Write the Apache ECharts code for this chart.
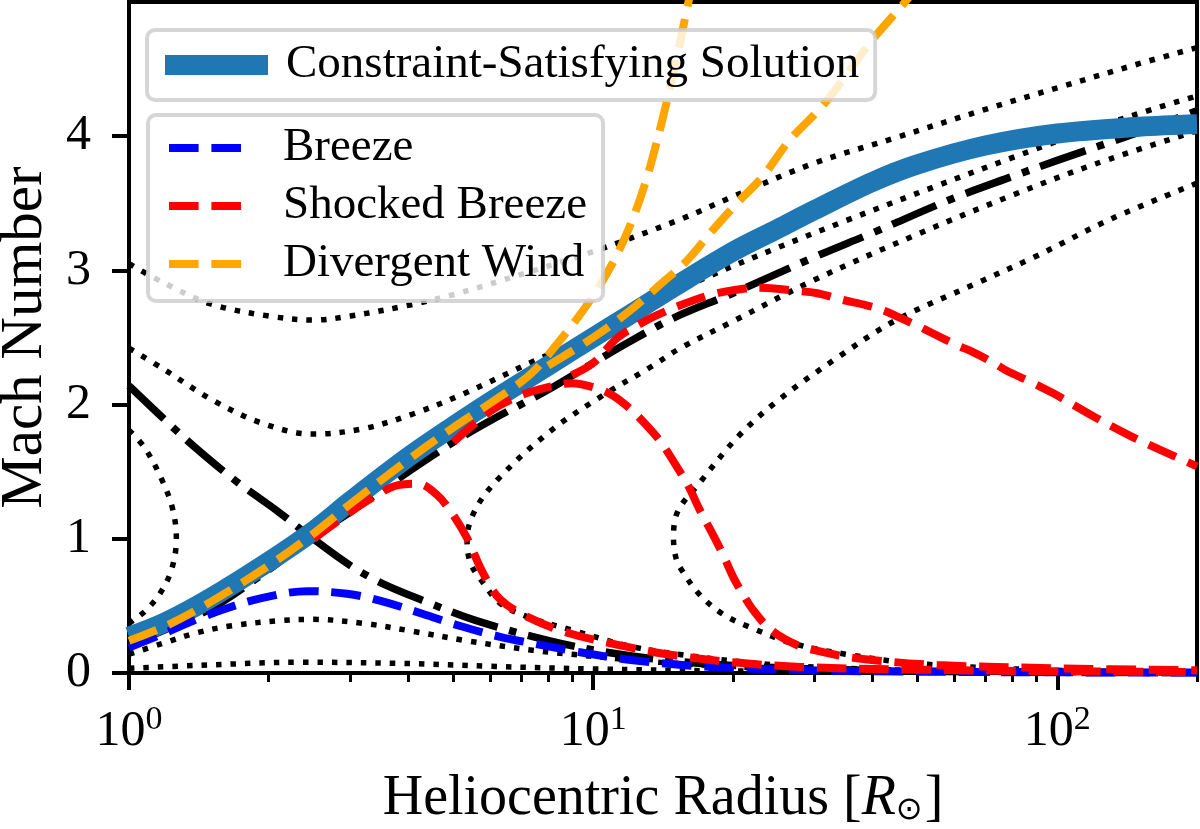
<!DOCTYPE html>
<html>
<head>
<meta charset="utf-8">
<script src="https://cdn.jsdelivr.net/npm/echarts@6/dist/echarts.min.js"></script>
<style>
  html, body { margin: 0; padding: 0; background: #fff; }
  #chart { width: 1200px; height: 829px; }
</style>
</head>
<body>
<div id="chart"></div>
<script>
// radius in R_sun, value = Mach number
const solution = [[1,0.27],[1.2,0.38],[1.5,0.56],[2,0.83],[2.5,1.06],[3,1.28],[4,1.61],[5,1.84],[6,2.02],[8,2.29],[10,2.50],[12,2.67],[15,2.88],[20,3.14],[25,3.31],[30,3.45],[40,3.66],[50,3.79],[70,3.93],[100,4.02],[150,4.07],[200,4.09]];

const breeze = [[1,0.19],[1.18,0.29],[1.4,0.40],[1.65,0.49],[1.94,0.56],[2.42,0.61],[2.95,0.59],[3.47,0.54],[4.3,0.44],[5.17,0.35],[6.3,0.27],[7.7,0.21],[9.37,0.155],[12.2,0.095],[17,0.05],[23.7,0.028],[35,0.015],[60,0.008],[100,0.005],[200,0.003]];

const shockedA = [[2.5,1.0],[3,1.2],[3.4,1.32],[3.8,1.40],[4.2,1.41],[4.6,1.33],[4.92,1.21],[5.34,1.01],[5.8,0.74],[6.3,0.55],[7.2,0.42],[8.8,0.30],[11.3,0.21],[14.4,0.14],[20,0.08],[28,0.045],[50,0.025],[100,0.013],[200,0.007]];
const shockedB = [[5,1.72],[6,1.95],[7,2.07],[8,2.13],[9,2.16],[10,2.13],[11,2.07],[12,1.97],[13,1.85],[14,1.72],[15,1.56],[16,1.40],[17,1.21],[18,1.05],[19,0.89],[20,0.72],[21,0.59],[22,0.48],[24,0.33],[27,0.22],[30,0.17],[37,0.11],[55,0.06],[100,0.035],[200,0.02]];
const shockedC = [[9,2.22],[10,2.31],[11.3,2.50],[12.6,2.60],[13.4,2.65],[15.4,2.74],[18,2.82],[20.7,2.86],[23,2.87],[27,2.85],[30.4,2.83],[34.5,2.78],[38.8,2.74],[42.4,2.70],[45,2.66],[50.5,2.58],[54,2.53],[61,2.44],[65,2.40],[73,2.31],[78,2.25],[87.5,2.17],[98.5,2.08],[120,1.91],[145,1.76],[200,1.54]];

const divergentA = [[1,0.24],[1.2,0.35],[1.5,0.53],[2,0.80],[2.5,1.04],[3,1.26],[4,1.59],[5,1.83],[6,2.01],[7,2.17],[7.5,2.26],[8,2.37],[9,2.59],[10,2.81],[11,3.05],[12,3.33],[13,3.67],[14,4.08],[15,4.52],[16,4.98],[17,5.4]];
const divergentB = [[8,2.29],[10,2.50],[12,2.70],[14,2.90],[15.9,3.07],[17.9,3.28],[20.4,3.50],[23.2,3.70],[26.5,3.97],[30.9,4.21],[34.5,4.42],[40,4.72],[47,5.0],[50,5.12]];

// critical (X-point) solutions, dash-dot
const criticalWind = [[1,0.21],[1.5,0.48],[2,0.77],[2.45,1.0],[3,1.2],[4,1.5],[5,1.72],[6,1.88],[8,2.11],[10,2.31],[12,2.47],[15,2.65],[20,2.83],[30,3.1],[40,3.28],[60,3.54],[80,3.70],[100,3.82],[150,4.03],[200,4.19]];
const criticalAccretion = [[1,2.14],[1.2,1.88],[1.4,1.67],[1.7,1.43],[2.1,1.20],[2.45,1.02],[3,0.80],[3.5,0.67],[4.3,0.54],[5.6,0.39],[8.07,0.24],[10.7,0.155],[14.4,0.095],[20,0.055],[30,0.03],[50,0.013],[100,0.005],[200,0.002]];

// other integral curves, dotted
const contourTop = [[1,3.05],[1.2,2.90],[1.5,2.75],[2,2.66],[2.5,2.63],[3,2.66],[4,2.74],[5,2.82],[7,2.97],[10,3.14],[15.4,3.38],[20,3.55],[30,3.80],[45,3.99],[70,4.20],[100,4.36],[150,4.54],[200,4.66]];
const contourSecond = [[1,2.42],[1.18,2.27],[1.52,2.03],[1.94,1.86],[2.49,1.78],[3.19,1.82],[4.09,1.93],[5.25,2.08],[7.3,2.31],[10,2.53],[13,2.74],[17.6,2.95],[25,3.17],[35,3.37],[55,3.63],[80,3.84],[120,4.06],[160,4.2],[200,4.30]];
const contourLeft = [[1,1.81],[1.08,1.68],[1.17,1.46],[1.24,1.23],[1.265,1.0],[1.235,0.77],[1.165,0.59],[1.09,0.47],[1.02,0.39],[1,0.37]];
const contourHump = [[1,0.14],[1.18,0.22],[1.4,0.30],[1.65,0.35],[2.11,0.39],[2.49,0.40],[3.2,0.37],[4.1,0.31],[5.35,0.24],[7.4,0.17],[10.3,0.12],[14.5,0.075],[20,0.05],[28,0.032],[50,0.016],[100,0.008],[200,0.004]];
const contourLow = [[1,0.035],[1.42,0.057],[2.33,0.08],[3.83,0.072],[6,0.05],[10,0.03],[20,0.015],[50,0.006],[200,0.001]];
const contourRight1 = [[200,4.04],[120,3.79],[80,3.56],[50,3.27],[30,2.93],[20,2.62],[15.4,2.42],[13.3,2.28],[10.4,2.06],[8.07,1.80],[6.3,1.46],[5.6,1.23],[5.35,1.0],[5.44,0.82],[5.8,0.67],[6.3,0.52],[7.2,0.42],[9,0.32],[12,0.20],[16,0.13],[25,0.06],[50,0.018],[100,0.005],[200,0.002]];
const contourRight2 = [[200,3.65],[130,3.38],[89.3,3.1],[66.6,2.9],[45,2.63],[33.6,2.35],[25,2.03],[20.5,1.76],[16.9,1.41],[15.2,1.2],[14.9,1.0],[15.1,0.85],[15.5,0.77],[16.9,0.59],[19,0.44],[21.8,0.34],[27,0.22],[35,0.14],[50,0.07],[100,0.02],[200,0.008]];

const xMajor = [1, 10, 100];
const xMinor = [2,3,4,5,6,7,8,9,20,30,40,50,60,70,80,90,200];
const yTicks = [0, 1, 2, 3, 4];

const FONT = 'Liberation Serif';
const DOT = [5.5, 9];
const DASH = [29.6, 12.8];
const DASHDOT = [48, 12, 7.5, 12];

const chart = echarts.init(document.getElementById('chart'), null, { renderer: 'canvas' });

function curve(name, data, color, width, dash, z) {
    return {
        name: name,
        type: 'line',
        data: data,
        smooth: 0.35,
        symbol: 'none',
        showSymbol: false,
        clip: true,
        z: z,
        silent: true,
        itemStyle: { color: color },
        lineStyle: { color: color, width: width, type: dash, cap: 'butt', join: 'round' },
    };
}

const contours = [contourTop, contourSecond, contourLeft, contourHump, contourLow, contourRight1, contourRight2];

const series = [];
contours.forEach((c, i) => series.push(curve('contour' + i, c, '#000', 5.5, DOT, 1)));
series.push(curve('criticalWind', criticalWind, '#000', 7.5, DASHDOT, 2));
series.push(curve('criticalAccretion', criticalAccretion, '#000', 7.5, DASHDOT, 2));
series.push(curve('Constraint-Satisfying Solution', solution, '#1f77b4', 20, 'solid', 3));
series.push(curve('Breeze', breeze, '#0000ff', 8, DASH, 4));
series.push(curve('Shocked Breeze', shockedA, '#ff0000', 8, DASH, 5));
series.push(curve('Shocked Breeze', shockedB, '#ff0000', 8, DASH, 5));
series.push(curve('Shocked Breeze', shockedC, '#ff0000', 8, DASH, 5));
series.push(curve('Divergent Wind', divergentA, '#ffa500', 8, DASH, 6));
series.push(curve('Divergent Wind', divergentB, '#ffa500', 8, DASH, 6));

const legendBox = {
    backgroundColor: 'rgba(255,255,255,0.8)',
    borderColor: 'rgba(204,204,204,0.8)',
    borderWidth: 4,
    borderRadius: 8,
    selectedMode: false,
    itemStyle: { opacity: 0 },
    z: 10,
};

const option = {
    animation: false,
    backgroundColor: '#fff',
    grid: {
        left: 129, right: 3, top: 2, bottom: 156,
        outerBoundsMode: 'none',
        containLabel: false,
        show: true, borderColor: '#000', borderWidth: 4, backgroundColor: 'transparent',
    },
    legend: [
        Object.assign({}, legendBox, {
            data: ['Constraint-Satisfying Solution'],
            left: 147, top: 30,
            itemWidth: 103, itemHeight: 20,
            lineStyle: { width: 20, cap: 'butt' },
            padding: [10, 16, 10, 8],
            textStyle: { fontFamily: FONT, fontSize: 47, color: '#000', lineHeight: 50, padding: [0, 0, 0, 13] },
        }),
        Object.assign({}, legendBox, {
            data: ['Breeze', 'Shocked Breeze', 'Divergent Wind'],
            orient: 'vertical',
            left: 148, top: 115,
            itemWidth: 84, itemHeight: 20,
            itemGap: 8,
            lineStyle: { width: 8, cap: 'butt' },
            padding: [8, 16, 12, 17],
            textStyle: { fontFamily: FONT, fontSize: 47, color: '#000', lineHeight: 50, padding: [0, 0, 0, 25] },
        }),
    ],
    xAxis: [
        {
            type: 'log', logBase: 10, min: 1, max: 200,
            position: 'bottom',
            name: '{t|Heliocentric Radius [}{i|R}{s|\u2299}{t|]}',
            nameLocation: 'middle', nameGap: 98,
            nameTextStyle: {
                rich: {
                    t: { fontFamily: FONT, fontSize: 56, color: '#000' },
                    i: { fontFamily: FONT, fontSize: 56, fontStyle: 'italic', color: '#000' },
                    s: { fontFamily: 'DejaVu Sans', fontSize: 32, color: '#000', verticalAlign: 'bottom', padding: [16, 2, 0, 0] },
                },
            },
            axisLine: { show: false },
            splitLine: { show: false },
            axisTick: { show: true, inside: false, length: 17, customValues: xMajor, lineStyle: { color: '#000', width: 4 } },
            axisLabel: {
                customValues: xMajor,
                margin: 30,
                formatter: v => '{b|10}{e|' + Math.round(Math.log10(v)) + '}',
                rich: {
                    b: { fontFamily: FONT, fontSize: 50, color: '#000', lineHeight: 54, verticalAlign: 'bottom' },
                    e: { fontFamily: FONT, fontSize: 34, color: '#000', lineHeight: 34, verticalAlign: 'top' },
                },
            },
        },
        {
            type: 'log', logBase: 10, min: 1, max: 200,
            position: 'bottom',
            axisLine: { show: false },
            splitLine: { show: false },
            axisLabel: { show: false },
            axisTick: { show: true, inside: false, length: 9, customValues: xMinor, lineStyle: { color: '#000', width: 3 } },
        },
    ],
    yAxis: {
        type: 'value', min: 0, max: 5,
        name: 'Mach Number',
        nameLocation: 'middle', nameGap: 68,
        nameTextStyle: { fontFamily: FONT, fontSize: 59, color: '#000' },
        axisLine: { show: false },
        splitLine: { show: false },
        axisTick: { show: true, inside: false, length: 17, customValues: yTicks, lineStyle: { color: '#000', width: 4 } },
        axisLabel: { customValues: yTicks, margin: 38, fontFamily: FONT, fontSize: 50, color: '#000' },
    },
    series: series,
};

chart.setOption(option);
</script>
</body>
</html>
